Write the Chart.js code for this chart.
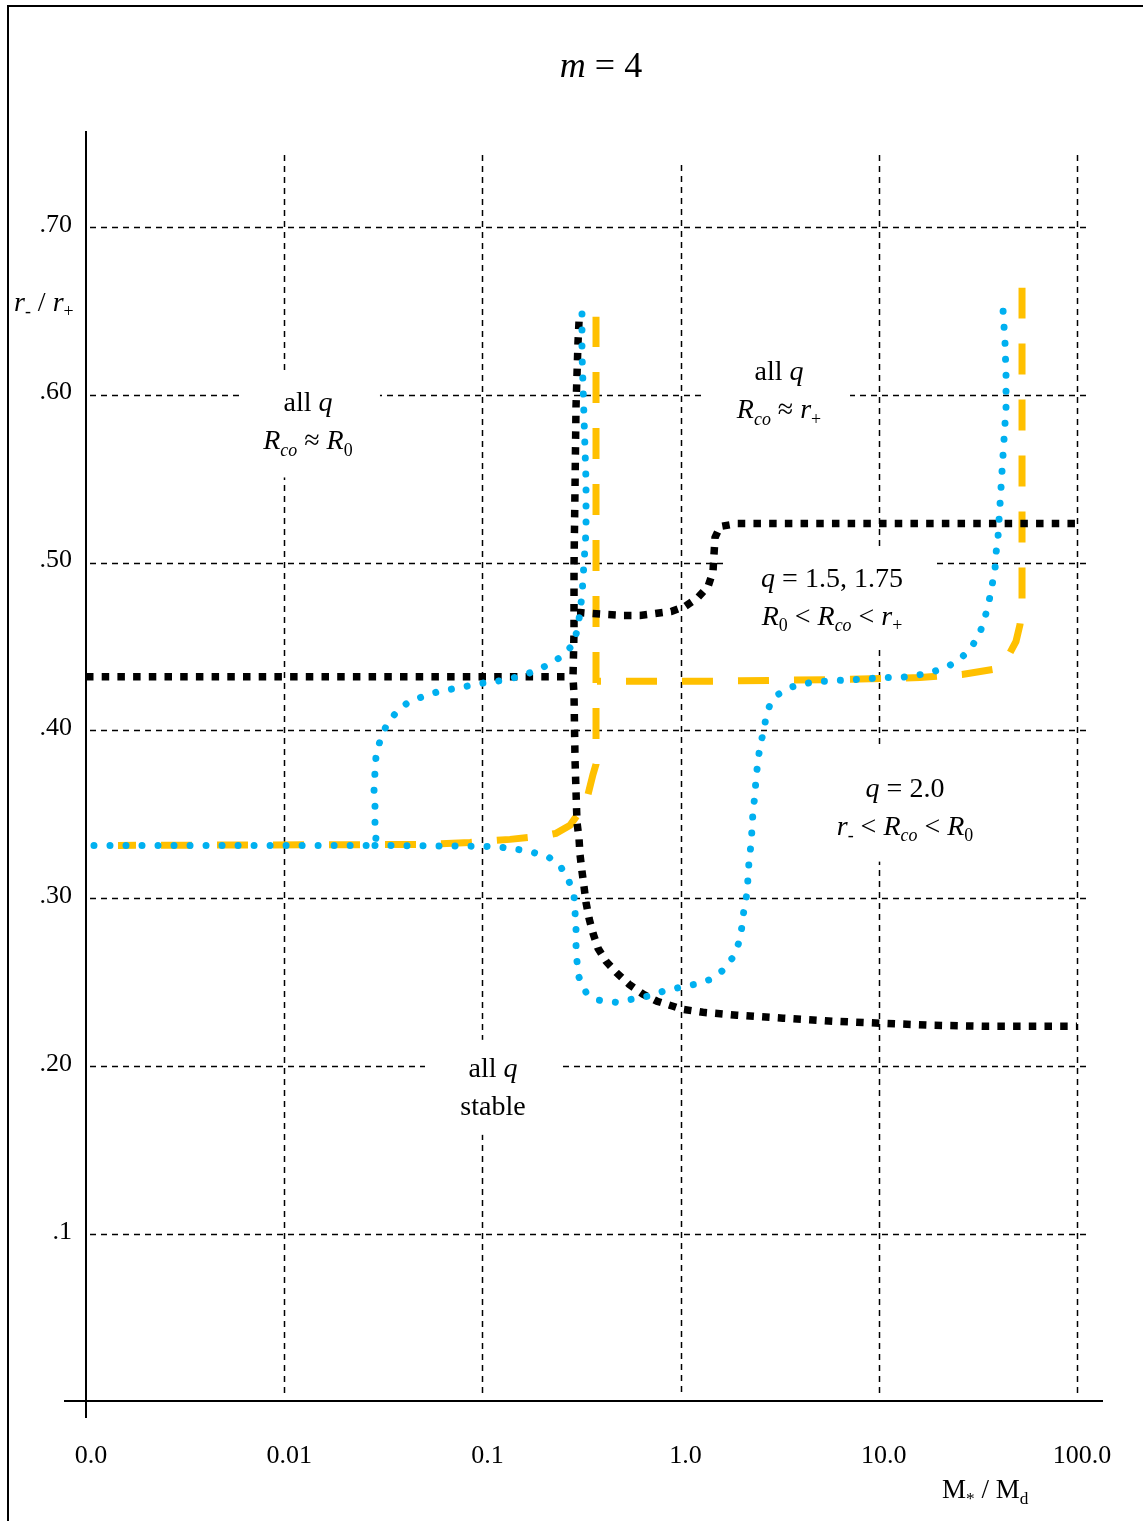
<!DOCTYPE html>
<html>
<head>
<meta charset="utf-8">
<title>m = 4</title>
<script src="https://cdn.jsdelivr.net/npm/chart.js@4/dist/chart.umd.min.js"></script>
<style>
  html, body { margin: 0; padding: 0; background: #fff; }
  canvas { display: block; }
</style>
</head>
<body>
<canvas id="chart" width="1143" height="1521"></canvas>
<script>
// Axis ticks: M*/Md on a log axis, r-/r+ on a linear axis
const xTickValues = [0.001, 0.01, 0.1, 1, 10, 100];
const xTickLabels = ['0.0', '0.01', '0.1', '1.0', '10.0', '100.0'];
const yTickValues = [0.1, 0.2, 0.3, 0.4, 0.5, 0.6, 0.7];
const yTickLabels = ['.1', '.20', '.30', '.40', '.50', '.60', '.70'];

// Black square-dotted curve: three branches [M*/Md, r-/r+]
const blackFlat = [[0.001, 0.432], [0.283, 0.432]];
const blackMain = [
  [0.3072, 0.6435], [0.3036, 0.6310], [0.2967, 0.5929], [0.2933, 0.5452], [0.2899, 0.4976],
  [0.2899, 0.4589], [0.2865, 0.4315], [0.2899, 0.4214], [0.2933, 0.3827], [0.2967, 0.3637],
  [0.3001, 0.3452], [0.3072, 0.3357], [0.3107, 0.3262], [0.3180, 0.3161], [0.3255, 0.3071],
  [0.3333, 0.2976], [0.3451, 0.2881], [0.3614, 0.2792], [0.3831, 0.2702], [0.4204, 0.2625],
  [0.4776, 0.2554], [0.5492, 0.2488], [0.6462, 0.2429], [0.7603, 0.2387], [0.9157, 0.2357],
  [1.017, 0.2339], [1.297, 0.2321], [1.925, 0.2304], [3.286, 0.2286], [5.873, 0.2268],
  [10.14, 0.2256], [18.77, 0.2244], [33.55, 0.2238], [100, 0.2238]
];
const blackUpper = [
  [0.300, 0.4702], [0.3107, 0.4702], [0.3573, 0.4696], [0.4254, 0.4690], [0.5121, 0.4685],
  [0.6240, 0.4685], [0.7429, 0.4696], [0.8947, 0.4708], [1.0525, 0.4738], [1.224, 0.4792],
  [1.375, 0.4857], [1.457, 0.4946], [1.474, 0.5048], [1.492, 0.5149], [1.581, 0.5214],
  [1.925, 0.5232], [100, 0.5232]
];

// Blue round-dotted curve: two branches
const blueUpper = [
  [0.001097, 0.3315], [0.02871, 0.3315], [0.02905, 0.3363], [0.02871, 0.3452], [0.02871, 0.3554],
  [0.02838, 0.3649], [0.02871, 0.3750], [0.02905, 0.3845], [0.03044, 0.3940], [0.03263, 0.4024],
  [0.03665, 0.4107], [0.04213, 0.4167], [0.05016, 0.4202], [0.06039, 0.4232], [0.07274, 0.4250],
  [0.08760, 0.4268], [0.1055, 0.4286], [0.1270, 0.4298], [0.1530, 0.4321], [0.1821, 0.4351],
  [0.2168, 0.4393], [0.2551, 0.4446], [0.2865, 0.4512], [0.3036, 0.4613], [0.3107, 0.4708],
  [0.3180, 0.4804], [0.3218, 0.4899], [0.3255, 0.5000], [0.3295, 0.5089], [0.3333, 0.5190],
  [0.3333, 0.5387], [0.3333, 0.5482], [0.3295, 0.5673], [0.3255, 0.5869], [0.3218, 0.6060],
  [0.3180, 0.6250], [0.3180, 0.6548]
];
const blueLower = [
  [0.02871, 0.3315], [0.1030, 0.3310], [0.1241, 0.3304], [0.1495, 0.3292], [0.1800, 0.3274],
  [0.2168, 0.3244], [0.2492, 0.3185], [0.2735, 0.3101], [0.2899, 0.3012], [0.2933, 0.2917],
  [0.2967, 0.2821], [0.2967, 0.2720], [0.3001, 0.2625], [0.3072, 0.2530], [0.3333, 0.2440],
  [0.3876, 0.2393], [0.4721, 0.2381], [0.5687, 0.2399], [0.6846, 0.2417], [0.8150, 0.2446],
  [0.9930, 0.2470], [1.182, 0.2488], [1.424, 0.2518], [1.636, 0.2571], [1.838, 0.2649],
  [1.971, 0.2738], [2.041, 0.2833], [2.089, 0.2935], [2.163, 0.3030], [2.189, 0.3125],
  [2.214, 0.3220], [2.266, 0.3321], [2.292, 0.3411], [2.319, 0.3518], [2.374, 0.3619],
  [2.402, 0.3720], [2.458, 0.3815], [2.516, 0.3911], [2.636, 0.4000], [2.697, 0.4083],
  [2.826, 0.4155], [3.101, 0.4214], [3.565, 0.4256], [4.243, 0.4280], [5.168, 0.4292],
  [6.372, 0.4298], [8.038, 0.4304], [10.50, 0.4315], [12.79, 0.4315], [15.41, 0.4327],
  [18.34, 0.4345], [22.35, 0.4381], [25.98, 0.4429], [29.53, 0.4500], [32.40, 0.4583],
  [34.34, 0.4673], [35.97, 0.4768], [37.25, 0.4863], [38.57, 0.4958], [39.02, 0.5054],
  [39.94, 0.5149], [40.41, 0.5250], [40.88, 0.5345], [41.84, 0.5542], [42.83, 0.5732],
  [43.84, 0.5923], [43.84, 0.6119], [43.33, 0.6310], [42.33, 0.6506]
];

// Amber dashed curve: two branches
const amberLeft = [
  [0.00145, 0.3315], [0.0544, 0.3321], [0.0866, 0.3333], [0.1378, 0.3351], [0.1953, 0.3369],
  [0.2351, 0.3387], [0.2767, 0.3435], [0.3107, 0.3518], [0.3411, 0.3619], [0.3614, 0.3738],
  [0.3743, 0.3798], [0.3743, 0.3970], [0.3743, 0.4292], [0.3743, 0.6464]
];
const amberRight = [
  [0.3786, 0.4292], [1.2528, 0.4292], [7.155, 0.4304], [16.14, 0.4315], [26.30, 0.4333],
  [37.69, 0.4363], [44.87, 0.4440], [49.23, 0.4530], [51.58, 0.4631], [52.80, 0.4780],
  [52.80, 0.6637]
];

// Region notes: text runs per line ('i' italic, 's' subscript)
const regionNotes = [
  { at: [0.01318, 0.5846], box: [-68, 72, -49, 57],
    lines: [[['all '], ['q', 'i']], [['R', 'i'], ['co', 'is'], [' \u2248 '], ['R', 'i'], ['0', 's']]] },
  { at: [3.137, 0.6031], box: [-74, 71, -40, 40],
    lines: [[['all '], ['q', 'i']], [['R', 'i'], ['co', 'is'], [' \u2248 '], ['r', 'i'], ['+', 's']]] },
  { at: [5.806, 0.4803], box: [-104, 103, -48, 54],
    lines: [[['q', 'i'], [' = 1.5, 1.75']], [['R', 'i'], ['0', 's'], [' < '], ['R', 'i'], ['co', 'is'], [' < '], ['r', 'i'], ['+', 's']]] },
  { at: [13.56, 0.3552], box: [-80, 80, -61, 56],
    lines: [[['q', 'i'], [' = 2.0']], [['r', 'i'], ['-', 's'], [' < '], ['R', 'i'], ['co', 'is'], [' < '], ['R', 'i'], ['0', 's']]] },
  { at: [0.1131, 0.1883], box: [-68, 67, -46, 49],
    lines: [[['all '], ['q', 'i']], [['stable']]] }
];

const SERIF = '"Liberation Serif", "DejaVu Serif", serif';
const toXY = arr => arr.map(([x, y]) => ({ x, y }));

function drawRuns(ctx, runs, x, y, size, align) {
  const parts = runs.map(([t, st = '']) => {
    const sub = st.includes('s');
    const fs = sub ? size * 0.64 : size;
    const font = (st.includes('i') ? 'italic ' : '') + fs + 'px ' + SERIF;
    ctx.font = font;
    return { t, font, w: ctx.measureText(t).width, dy: sub ? size * 0.22 : 0 };
  });
  const total = parts.reduce((s, p) => s + p.w, 0);
  let cx = align === 'left' ? x : align === 'right' ? x - total : x - total / 2;
  ctx.textAlign = 'left';
  ctx.textBaseline = 'alphabetic';
  for (const p of parts) {
    ctx.font = p.font;
    ctx.fillText(p.t, cx, y + p.dy);
    cx += p.w;
  }
}

const framePlugin = {
  id: 'frame',
  beforeDraw(chart) {
    const { ctx, chartArea: a, scales: { x, y } } = chart;
    ctx.save();
    ctx.fillStyle = '#fff';
    ctx.fillRect(0, 0, chart.width, chart.height);
    // outer border
    ctx.strokeStyle = '#000';
    ctx.lineWidth = 2;
    ctx.strokeRect(8, 6, 1200, 1600);
    // dashed grid
    ctx.lineWidth = 1.5;
    ctx.setLineDash([6, 5]);
    yTickValues.forEach(v => {
      const py = Math.round(y.getPixelForValue(v)) + 0.5;
      ctx.beginPath();
      ctx.moveTo(a.left + 4, py);
      ctx.lineTo(a.right + 13, py);
      ctx.stroke();
    });
    xTickValues.slice(1).forEach(v => {
      const px = Math.round(x.getPixelForValue(v)) + 0.5;
      ctx.beginPath();
      ctx.moveTo(px, a.top + (v === 1 ? 34 : 24));
      ctx.lineTo(px, a.bottom - 5);
      ctx.stroke();
    });
    ctx.restore();
  },
  beforeDatasetsDraw(chart) {
    const { ctx, chartArea: a, scales: { x, y } } = chart;
    ctx.save();
    // region notes on white panels
    regionNotes.forEach(n => {
      const cx = x.getPixelForValue(n.at[0]);
      const cy = y.getPixelForValue(n.at[1]);
      const [l, r, t, b] = n.box;
      ctx.fillStyle = '#fff';
      ctx.fillRect(cx + l, cy + t, r - l, b - t);
      ctx.fillStyle = '#000';
      drawRuns(ctx, n.lines[0], cx, cy - 9, 28, 'center');
      drawRuns(ctx, n.lines[1], cx, cy + 29, 28, 'center');
    });
    // axis lines
    ctx.strokeStyle = '#000';
    ctx.lineWidth = 2;
    ctx.setLineDash([]);
    ctx.beginPath();
    ctx.moveTo(a.left, a.top);
    ctx.lineTo(a.left, a.bottom + 16);
    ctx.moveTo(a.left - 22, a.bottom - 1);
    ctx.lineTo(a.right + 26, a.bottom - 1);
    ctx.stroke();
    ctx.restore();
  },
  afterDraw(chart) {
    const { ctx, chartArea: a, scales: { x, y } } = chart;
    ctx.save();
    ctx.fillStyle = '#000';
    // y tick labels
    ctx.font = '26px ' + SERIF;
    ctx.textAlign = 'right';
    ctx.textBaseline = 'middle';
    yTickValues.forEach((v, i) => {
      ctx.fillText(yTickLabels[i], a.left - 14, y.getPixelForValue(v) - 2);
    });
    // x tick labels
    ctx.textAlign = 'center';
    ctx.textBaseline = 'alphabetic';
    xTickValues.forEach((v, i) => {
      ctx.fillText(xTickLabels[i], x.getPixelForValue(v) + 5, a.bottom + 61);
    });
    // titles
    drawRuns(ctx, [['m', 'i'], [' = 4']], 601, 77, 36, 'center');
    drawRuns(ctx, [['r', 'i'], ['-', 's'], [' / '], ['r', 'i'], ['+', 's']], 14, 311, 28, 'left');
    drawRuns(ctx, [['M'], ['*', 's'], [' / M'], ['d', 's']], 942, 1498, 27, 'left');
    ctx.restore();
  }
};

const blueStyle = { borderColor: '#00B0F0', borderWidth: 7, borderDash: [0.01, 16], borderCapStyle: 'round', borderJoinStyle: 'round' };
const blackStyle = { borderColor: '#000000', borderWidth: 7.5, borderDash: [7.5, 8.2], borderCapStyle: 'butt', borderJoinStyle: 'miter' };
const amberStyle = { borderColor: '#FFC000', borderWidth: 7, borderDash: [31, 25], borderCapStyle: 'butt', borderJoinStyle: 'miter' };

const common = { showLine: true, pointRadius: 0, pointHoverRadius: 0, tension: 0, fill: false, clip: 12 };

new Chart(document.getElementById('chart'), {
  type: 'scatter',
  data: {
    datasets: [
      { ...common, ...blueStyle, label: 'blue upper', data: toXY(blueUpper) },
      { ...common, ...blueStyle, label: 'blue lower', data: toXY(blueLower) },
      { ...common, ...blackStyle, label: 'black flat', data: toXY(blackFlat) },
      { ...common, ...blackStyle, label: 'black main', data: toXY(blackMain) },
      { ...common, ...blackStyle, label: 'black upper', data: toXY(blackUpper) },
      { ...common, ...amberStyle, borderDashOffset: 13, label: 'amber left', data: toXY(amberLeft) },
      { ...common, ...amberStyle, borderDashOffset: 27, label: 'amber right', data: toXY(amberRight) }
    ]
  },
  options: {
    responsive: false,
    animation: false,
    devicePixelRatio: 1,
    layout: { padding: { left: 86, right: 66, top: 131, bottom: 119 } },
    plugins: { legend: { display: false }, tooltip: { enabled: false } },
    events: [],
    scales: {
      x: { type: 'logarithmic', min: 0.001, max: 100, display: false },
      y: { type: 'linear', min: 0, max: 0.757, display: false }
    }
  },
  plugins: [framePlugin]
});
</script>
</body>
</html>
